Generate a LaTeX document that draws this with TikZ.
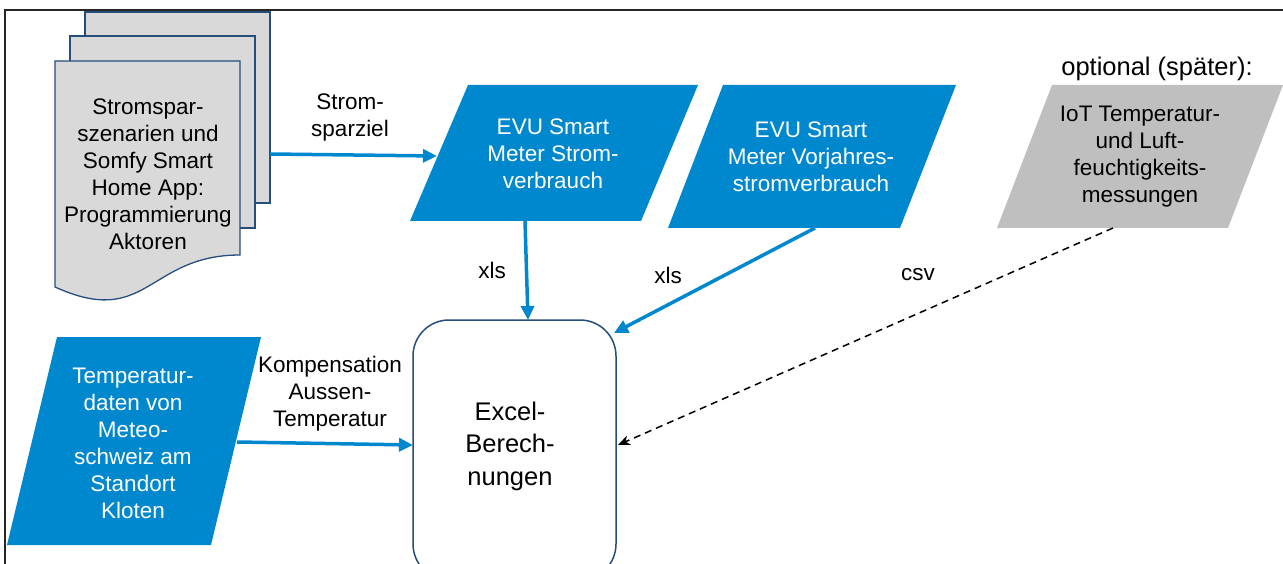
\documentclass[tikz,border=0pt]{standalone}
\usepackage{fontspec}
\setmainfont{Liberation Sans}
\usetikzlibrary{arrows.meta}
\definecolor{evublue}{RGB}{0,136,207}
\definecolor{docgray}{RGB}{217,217,217}
\definecolor{iotgray}{RGB}{191,191,191}
\definecolor{navy}{RGB}{37,78,125}
\tikzset{
  txt/.style={align=center, inner sep=0pt, font=\fontsize{22.5}{27}\selectfont},
  wtxt/.style={txt, text=white},
  docpage/.style={fill=docgray, draw=navy, line width=1.3pt},
  blueflow/.style={draw=evublue, line width=3.5pt, -{Triangle[length=14pt,width=13pt]}},
  dashflow/.style={draw=black, line width=1.5pt, dash pattern=on 7pt off 5pt, -{Stealth[length=12pt,width=10pt]}},
}
\begin{document}
\begin{tikzpicture}[x=1pt,y=-1pt]
\useasboundingbox (0,0) rectangle (1283,564);
% frame
\draw[line width=1.5pt, black!85] (5,564) -- (5,10) -- (1283,10);

% document stack
\draw[docpage] (85,12) rectangle (270,203);
\draw[docpage] (70,36) rectangle (255,228);
\draw[docpage] (55,61) -- (240,61) -- (240,255)
  .. controls (147.5,255) and (147.5,329) .. (55,287) -- cycle;
\node[txt] (doc) at (148,174) {Stromspar-\\szenarien und\\Somfy Smart\\Home App:\\Programmierung\\Aktoren};
\coordinate (docR) at (270,154);

% EVU Stromverbrauch
\fill[evublue] (468,85) -- (698,85) -- (641,221) -- (410,221) -- cycle;
\node[wtxt] (evu1) at (553,154) {EVU Smart\\Meter Strom-\\verbrauch};
\coordinate (evu1L) at (437,156);
\coordinate (evu1B) at (525,221);

% EVU Vorjahr
\fill[evublue] (723,85) -- (956,85) -- (900,228) -- (668,228) -- cycle;
\node[wtxt] (evu2) at (811,157) {EVU Smart\\Meter Vorjahres-\\stromverbrauch};
\coordinate (evu2B) at (815,228);

% IoT
\node[inner sep=0pt, font=\fontsize{25.5}{30}\selectfont] (opt) at (1157,69) {optional (später):};
\fill[iotgray] (1052,85) -- (1283,85) -- (1228,228) -- (997,228) -- cycle;
\node[txt] (iot) at (1140,157) {IoT Temperatur-\\und Luft-\\feuchtigkeits-\\messungen};
\coordinate (iotB) at (1113,228);

% Temperatur
\fill[evublue] (57,337) -- (261,337) -- (211,545) -- (7,545) -- cycle;
\node[wtxt] (temp) at (133,443) {Temperatur-\\daten von\\Meteo-\\schweiz am\\Standort\\Kloten};
\coordinate (tempR) at (237,442);

% Excel
\draw[navy, line width=1.5pt, fill=white, rounded corners=36pt] (413,320) rectangle (616,580);
\node[align=center, inner sep=0pt, font=\fontsize{25.5}{32.5}\selectfont] (excel) at (510,446) {Excel-\\Berech-\\nungen};
\coordinate (exT) at (528,320);
\coordinate (exTR) at (614,333);
\coordinate (exR) at (618,445);
\coordinate (exL) at (413,445);

% connectors
\draw[blueflow] (docR) -- (evu1L);
\node[txt] (lbl1) at (350,117) {Strom-\\sparziel};
\draw[blueflow] (evu1B) -- (exT);
\node[txt] (lbl2) at (492,270) {xls};
\draw[blueflow] (evu2B) -- (exTR);
\node[txt] (lbl3) at (668,275) {xls};
\draw[dashflow] (iotB) -- (exR);
\node[txt] (lbl4) at (918,275) {csv};
\draw[blueflow] (tempR) -- (exL);
\node[txt] (lbl5) at (330,394) {Kompensation\\Aussen-\\Temperatur};
\end{tikzpicture}
\end{document}
